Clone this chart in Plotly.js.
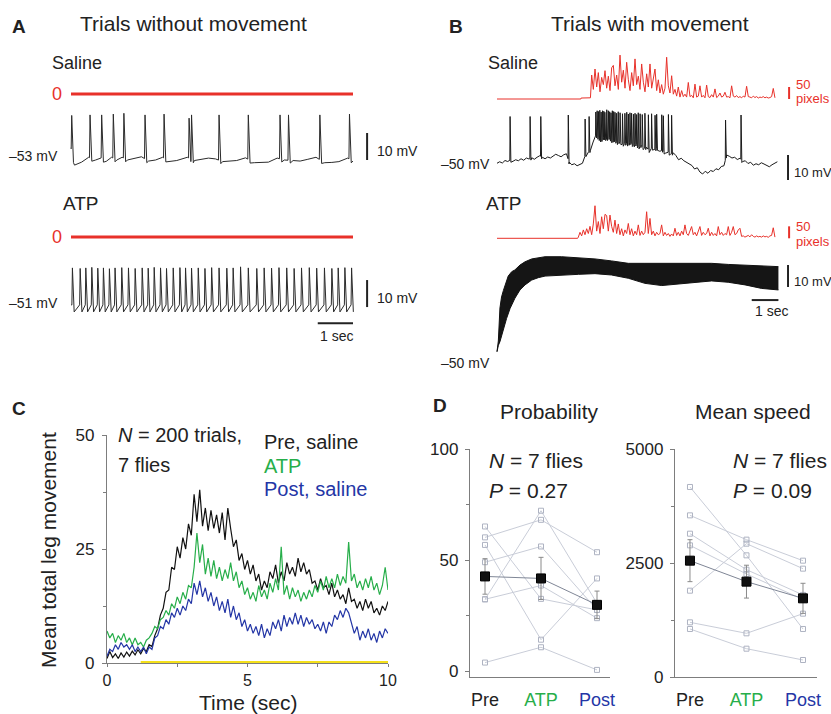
<!DOCTYPE html>
<html>
<head>
<meta charset="utf-8">
<script src="https://cdn.plot.ly/plotly-3.0.1.min.js"></script>
<style>html,body{margin:0;padding:0;background:#fff;}#chart{width:831px;height:714px;}</style>
</head>
<body>
<div id="chart"></div>
<script>
// ---------------- DATA ----------------
// Panel A, saline, no movement: membrane potential (mV)
const aSalBaseT = [0,0.1,0.3,0.5,0.7,0.85,1.0,1.15,1.3,1.45,1.6,1.8,2.0,2.2,2.4,2.6,2.8,3.0,3.3,3.5,3.7,3.9,4.1,4.3,4.5,4.7,4.95,5.2,5.4,5.6,5.85,6.05,6.3,6.5,6.7,6.95,7.2,7.4,7.6,7.85,8.0];
const aSalBaseV = [-48.5,-54.9,-53.8,-52,-53,-52.2,-53.5,-52,-53,-52,-53,-52.5,-51.8,-53.4,-53,-52,-53.6,-53.2,-52,-53.2,-52.8,-52.3,-52.6,-53.6,-53.4,-53.2,-52.2,-54,-54,-53.8,-52.3,-53,-53.2,-53.4,-52.8,-52,-54,-53.9,-53.6,-52.3,-53.4];
const aSalSpikeT = [0.02,0.54,0.87,1.20,1.50,2.10,2.64,3.35,3.42,4.20,5.03,5.93,6.17,7.06,7.90];
const aSalSpikeV = [-36.5,-36.3,-36.3,-36,-35.7,-36.3,-36,-37.5,-36.3,-36.3,-36.3,-36.3,-36.3,-36.3,-36];
const aSalMoveT = [0, 8];
const aSalMoveV = [0, 0];
// Panel A, ATP, no movement
const aAtpBaseT = [0, 8];
const aAtpBaseV = [-51.7, -51.7];
const aAtpSpikeT = [0.04,0.26,0.42,0.59,0.76,0.92,1.09,1.25,1.44,1.63,1.82,2.02,2.19,2.36,2.54,2.71,2.90,3.09,3.25,3.42,3.61,3.80,3.99,4.20,4.42,4.60,4.81,5.03,5.27,5.48,5.69,5.90,6.12,6.33,6.54,6.76,6.97,7.19,7.40,7.58,7.77,7.96];
const aAtpSpikeV = [-38,-38.2,-38,-37.8,-38.1,-38,-38.3,-38,-37.9,-38,-38.2,-38,-38.1,-37.8,-38,-38.2,-38,-37.9,-38,-38.1,-38,-38.2,-37.9,-38,-38.1,-38,-37.6,-38,-38.2,-38,-38.1,-37.9,-38,-38.2,-38,-37.9,-38.1,-38,-38.2,-38,-37.9,-38];
const aAtpMoveT = [0, 8];
const aAtpMoveV = [0, 0];

// Panel B, saline, with movement
const bSalMoveT = [0, 3.14, 3.15, 3.50];
const bSalMoveV = [0, 0, 4, 5];
const bSalMoveStart = 3.546, bSalMoveStep = 0.0624;
const bSalMoveActive = [100,40,125,50,110,30,90,60,118,45, 95,35,130,140,55,100,40,183,70,120, 45,153,80,35,110,55,167,60,95,40, 146,70,30,105,50,146,45,90,125,35, 80,25,60,20,45,174,55,25,97,20, 40,12,50,8,35,10,20,8,69,10, 15,5,62,8,12,55,8,15,5,58, 10,6,18,8,42,6,12,25,8,12, 28,8,10,5,55,12,8,14,6,10, 5,12,8,53,10,8,5,12,6,10, 4,8,6,10,5,8,4,6,10,44, 5];
// membrane potential baseline, every 0.1 s from 0 to 10.5 s
const bSalBaseStep = 0.1;
const bSalBaseV = [-50,-49.4,-49.9,-48.9,-49.3,-48.7,-49.2,-48.6,-49.0,-48.2,
 -48.8,-47.9,-48.3,-47.8,-48.4,-47.6,-47.0,-47.6,-48.2,-47.5,
 -47.9,-47.0,-46.4,-46.9,-47.4,-46.6,-46.2,-49.5,-50.6,-50.2,
 -51.0,-50.6,-50.0,-47.0,-45.5,-44.8,-41.5,-38.8,-39.8,-40.9,
 -39.6,-40.4,-39.7,-41.0,-40.6,-41.8,-41.2,-42.6,-41.9,-42.4,
 -41.6,-42.9,-42.3,-43.6,-42.9,-44.1,-43.6,-44.9,-43.8,-44.5,
 -43.9,-45.2,-44.8,-46.0,-45.5,-46.4,-45.8,-46.9,-48.6,-48.0,
 -49.0,-49.6,-50.5,-50.9,-52.3,-51.8,-53.5,-54.3,-53.2,-54.0,
 -52.9,-53.3,-52.2,-52.6,-51.3,-51.0,-46.7,-47.2,-47.9,-47.6,
 -48.5,-48.0,-49.3,-49.0,-50.1,-49.6,-50.8,-50.2,-50.6,-49.8,
 -50.3,-51.0,-51.4,-50.6,-50.1,-49.4];
const bSalSpikeT = [0.49,1.24,1.64,2.67,3.30,3.45,3.70,3.75,3.80,3.85,3.90,3.95,4.00,4.04,4.11,4.17,4.22,4.27,4.32,4.37,4.42,4.48,4.54,4.61,4.70,4.79,4.86,4.92,4.98,5.04,5.11,5.17,5.23,5.29,5.36,5.44,5.54,5.67,5.79,5.92,5.98,6.17,6.23,6.42,6.54,8.56,9.14];
const bSalSpikeV = [-31.3,-31.3,-31.3,-30.7,-32.3,-31.3,-29.5,-29,-29.3,-28.8,-29.5,-29,-29.2,-29.6,-28.6,-29,-29.4,-29.8,-29,-29.3,-29.6,-30,-29.4,-29.8,-30.2,-30,-29.6,-30.3,-29.8,-30,-30.4,-30,-30.5,-29.8,-30.2,-30.5,-30,-30.6,-30.2,-30.8,-30.4,-30.6,-31,-30.5,-30.8,-32.7,-30.7];
// Panel B, ATP, with movement
const bAtpMoveT = [0, 3.02];
const bAtpMoveV = [0, 0];
const bAtpMoveStart = 3.046, bAtpMoveStep = 0.0624;
const bAtpMoveActive = [5,25,10,35,15,40,20,50,15,60, 136,30,70,20,90,40,100,95,30,97, 50,25,76,20,60,15,40,10,35,20, 62,15,40,10,30,15,56,12,30,15, 25,111,20,83,15,30,10,25,15,20, 56,10,25,12,20,8,18,10,42,12, 25,10,30,15,56,20,12,30,49,15, 25,10,30,49,12,25,15,20,42,10, 25,12,20,10,49,15,25,12,20,15, 49,12,25,49,15,20,35,42,8,10, 5,8,12,6,15,8,5,10,6,8, 5,10,6,8,4,10,12,44,5];
const bAtpLowT = [0,0.05,0.11,0.24,0.36,0.49,0.67,0.86,1.05,1.30,1.55,1.80,2.42,3.05,3.67,4.29,4.92,5.54,6.17,6.79,7.42,8.04,8.66,9.29,9.91,10.54];
const bAtpLowV = [-49.85,-47,-45.3,-39.2,-34.7,-30.2,-25.6,-21.8,-19.5,-17.3,-16.2,-15.5,-15,-14.7,-14.4,-15,-16.5,-18.8,-19.8,-19.2,-18.3,-17.7,-18.3,-19.5,-21.1,-21.8];
const bAtpUpT = [0,0.05,0.11,0.17,0.24,0.30,0.36,0.42,0.55,0.67,0.86,1.05,1.30,1.55,1.80,2.42,3.05,3.67,4.29,4.92,5.54,6.17,6.79,7.42,8.04,8.66,9.29,9.91,10.54];
const bAtpUpV = [-49.85,-45,-30,-25,-22,-20,-18,-15.5,-13.5,-12.7,-10.5,-9,-7.7,-7.1,-6.7,-6.7,-7.1,-7.7,-8.6,-9.7,-9.7,-9.7,-9.7,-10,-9.7,-10.2,-10.5,-10.8,-11.2];

// Scale bars (data units)
const barMv = 10, barSec = 1, barPix = 50;

// Panel C: mean total leg movement, sampled every 0.1 s from 0 to 10 s
const cStep = 0.1;
const cPre = [1.0,2.5,1.2,2.0,1.0,2.2,1.3,2.4,1.5,2.6, 1.8,2.9,2.0,3.2,2.5,4.0,3.6,6.0,7.5,10.5, 12.0,15.5,16.0,21.0,20.5,25.5,23.0,27.5,25.0,30.5, 28.0,37.0,31.0,38.0,30.0,34.0,29.0,33.5,29.5,32.5, 28.5,33.0,27.0,34.0,29.5,25.5,27.0,22.5,24.0,20.5, 22.5,19.5,21.5,18.0,19.5,16.0,18.0,16.5,20.0,18.5, 21.5,17.5,20.0,18.0,22.0,19.5,21.0,19.0,23.0,20.0, 22.0,19.5,20.5,17.5,18.0,16.0,18.5,16.5,17.0,15.0, 17.5,14.5,16.0,14.0,15.0,13.0,16.5,13.5,14.0,12.0, 13.5,11.5,14.0,12.0,13.5,11.0,12.0,10.5,12.5,11.5, 13.5];
const cAtp = [7.0,5.5,6.5,4.5,6.0,5.0,6.5,4.5,5.5,4.0, 5.5,4.0,4.5,3.5,5.0,5.5,6.5,8.0,7.5,9.5, 10.0,11.5,10.5,13.0,12.0,14.5,13.0,15.5,14.0,17.0, 16.5,21.0,28.5,22.0,26.0,19.5,23.0,19.0,22.5,18.5, 21.0,18.0,20.5,18.5,22.0,18.0,20.0,16.5,18.0,15.0, 16.5,14.0,15.5,13.5,17.0,14.5,16.0,14.0,17.5,15.5, 18.5,16.0,25.5,15.0,17.0,14.0,16.5,14.5,16.0,13.5, 15.5,14.0,16.0,14.5,17.0,15.5,18.0,16.0,19.0,16.5, 18.5,16.5,19.5,17.0,19.0,17.5,26.5,18.0,19.5,16.5, 18.0,16.0,18.5,16.5,19.0,16.0,17.5,15.0,17.0,21.0, 16.0];
const cPost = [1.5,3.0,2.5,4.0,3.0,4.5,3.5,4.0,3.0,4.0, 2.5,3.5,2.5,3.5,2.0,3.5,3.0,5.5,6.0,8.0, 7.5,9.5,8.5,11.0,10.0,12.0,10.5,12.5,11.5,14.0, 13.0,17.5,15.0,18.0,14.5,16.5,13.5,15.5,12.5,14.5, 11.5,13.5,11.0,14.0,10.0,12.5,9.5,11.0,8.0,9.5, 7.0,8.5,6.5,8.0,6.0,8.5,5.5,7.5,6.0,9.0, 7.5,9.5,7.0,10.5,8.0,10.0,8.5,11.0,8.5,10.5, 8.0,10.0,8.5,9.5,7.5,8.5,7.0,9.0,6.5,9.0, 8.0,10.5,9.5,11.5,10.0,12.0,11.0,9.0,6.5,8.0, 5.0,7.0,5.5,7.5,5.0,6.5,4.5,7.0,5.5,7.5, 6.5];
const cStimT = [1.2, 10];
const cStimV = [0, 0];

// Panel D
const dCats = ['Pre', 'ATP', 'Post'];
const probPre  = [60.2, 49.0, 32.3, 65.1, 56.8, 3.8, 32.3];
const probATP  = [68.1, 56.1, 72.2, 32.5, 14.1, 10.7, 38.5];
const probPost = [53.5, 27.5, 30.5, 27.5, 41.7, 0.5, 23.8];
const probMean = [42.6, 41.7, 29.8];
const probSem  = [8.0, 9.5, 6.2];
const speedPre  = [4167, 3545, 3143, 2887, 1893, 1199, 1053];
const speedATP  = [2668, 3012, 2354, 2259, 2924, 958, 621];
const speedPost = [1053, 2551, 1800, 1700, 2376, 1389, 373];
const speedMean = [2551, 2091, 1725];
const speedSem  = [460, 360, 330];

// ---------------- HELPERS ----------------
const FONT = 'Liberation Sans, Arial, Helvetica, sans-serif';
const W = 831, H = 714;
const PX = x => x / W;
const PY = y => 1 - y / H;
const domX = (a, b) => [PX(a), PX(b)];
const domY = (top, bottom) => [PY(bottom), PY(top)];
const RED = '#e8312a', GREEN = '#27ae4a', BLUE = '#2436a6', VM = '#2b2b2b';

function interp(ts, vs, t) {
  if (t <= ts[0]) return vs[0];
  for (let i = 1; i < ts.length; i++) {
    if (t <= ts[i]) { const f = (t - ts[i-1]) / (ts[i] - ts[i-1]); return vs[i-1] + f * (vs[i] - vs[i-1]); }
  }
  return vs[vs.length - 1];
}
function spikeTrace(baseT, baseV, spT, spV, rise, fall, ahp) {
  const pts = [];
  baseT.forEach((t, i) => { if (!spT.some(s => t > s - rise && t < s + fall)) pts.push([t, baseV[i]]); });
  spT.forEach((s, i) => {
    pts.push([s - rise, interp(baseT, baseV, s - rise)]);
    pts.push([s, spV[i]]);
    pts.push([s + fall, interp(baseT, baseV, s + fall) - ahp]);
  });
  pts.sort((a, b) => a[0] - b[0]);
  return { x: pts.map(p => p[0]), y: pts.map(p => p[1]) };
}
function regular(start, step, vals) { return vals.map((_, i) => +(start + i * step).toFixed(4)); }

function line(x, y, xa, ya, color, width, extra) {
  return Object.assign({ type: 'scatter', mode: 'lines', x, y, xaxis: xa, yaxis: ya,
    line: { color, width }, hoverinfo: 'skip', showlegend: false }, extra || {});
}

// ---------------- TRACES ----------------
const traces = [];
// A
traces.push(line(aSalMoveT, aSalMoveV, 'x', 'y', RED, 3));
const aSal = spikeTrace(aSalBaseT, aSalBaseV, aSalSpikeT, aSalSpikeV, 0.015, 0.05, 1.0);
traces.push(line(aSal.x, aSal.y, 'x', 'y2', VM, 1));
traces.push(line(aAtpMoveT, aAtpMoveV, 'x', 'y3', RED, 3));
const aAtp = spikeTrace(aAtpBaseT, aAtpBaseV, aAtpSpikeT, aAtpSpikeV, 0.015, 0.05, 2.6);
traces.push(line(aAtp.x, aAtp.y, 'x', 'y4', VM, 1));
// B
traces.push(line(bSalMoveT.concat(regular(bSalMoveStart, bSalMoveStep, bSalMoveActive)),
  bSalMoveV.concat(bSalMoveActive), 'x2', 'y5', RED, 1));
const bSal = spikeTrace(regular(0, bSalBaseStep, bSalBaseV), bSalBaseV, bSalSpikeT, bSalSpikeV, 0.01, 0.03, 0.8);
traces.push(line(bSal.x, bSal.y, 'x2', 'y6', '#1a1a1a', 1));
traces.push(line(bAtpMoveT.concat(regular(bAtpMoveStart, bAtpMoveStep, bAtpMoveActive)),
  bAtpMoveV.concat(bAtpMoveActive), 'x2', 'y7', RED, 1));
traces.push(line(bAtpLowT, bAtpLowV, 'x2', 'y8', '#111', 1));
traces.push(line(bAtpUpT, bAtpUpV, 'x2', 'y8', '#111', 1, { fill: 'tonexty', fillcolor: '#151515' }));
// C
const cT = regular(0, cStep, cPre);
traces.push(line(cT, cPre, 'x3', 'y9', '#111', 1.2, { cliponaxis: false }));
traces.push(line(cT, cAtp, 'x3', 'y9', GREEN, 1.2, { cliponaxis: false }));
traces.push(line(cT, cPost, 'x3', 'y9', BLUE, 1.2, { cliponaxis: false }));
traces.push(line(cStimT, cStimV, 'x3', 'y9', '#f4e01a', 4, { cliponaxis: false }));
// D
const dX = [0, 1, 2];
function dPanel(pre, atp, post, mean, sem, xa, ya) {
  pre.forEach((_, i) => {
    traces.push({ type: 'scatter', mode: 'lines+markers', x: dX, y: [pre[i], atp[i], post[i]],
      xaxis: xa, yaxis: ya, line: { color: '#c9cdd8', width: 1 },
      marker: { symbol: 'square-open', size: 5, color: '#aeb3c2', line: { width: 1 } },
      cliponaxis: false, hoverinfo: 'skip', showlegend: false });
  });
  traces.push({ type: 'scatter', mode: 'lines+markers', x: dX, y: mean, xaxis: xa, yaxis: ya,
    line: { color: '#7f8696', width: 1 },
    marker: { symbol: 'square', size: 9, color: '#111', line: { color: '#000', width: 1 } },
    error_y: { type: 'data', array: sem, visible: true, color: '#8a8a8a', thickness: 1, width: 2.5 },
    cliponaxis: false, hoverinfo: 'skip', showlegend: false });
}
dPanel(probPre, probATP, probPost, probMean, probSem, 'x4', 'y10');
dPanel(speedPre, speedATP, speedPost, speedMean, speedSem, 'x5', 'y11');

// ---------------- LAYOUT ----------------
const hidden = (domain, range, anchor) => ({ domain, range, anchor, visible: false, fixedrange: true });
const AXC = '#7d7d7d';
const tickFont = { family: FONT, size: 17, color: '#222' };
const layout = {
  width: W, height: H,
  margin: { l: 0, r: 0, t: 0, b: 0 },
  paper_bgcolor: '#fff', plot_bgcolor: 'rgba(0,0,0,0)',
  showlegend: false,
  font: { family: FONT, color: '#222' },
  xaxis: hidden(domX(0, 420), [-71 / 35.25, (420 - 71) / 35.25], 'y'),
  xaxis2: hidden(domX(420, 831), [(420 - 497) / 26.7, (831 - 497) / 26.7], 'y5'),
  yaxis: hidden(domY(84, 104), [-1, 1], 'x'),
  yaxis2: hidden(domY(105, 175), [-58.56, -32.63], 'x'),
  yaxis3: hidden(domY(227, 247), [-1, 1], 'x'),
  yaxis4: hidden(domY(255, 330), [-61.0, -33.22], 'x'),
  yaxis5: hidden(domY(45, 105), [-25, 225], 'x2'),
  yaxis6: hidden(domY(105, 185), [-58.7, -26.7], 'x2'),
  yaxis7: hidden(domY(200, 245), [-28, 160], 'x2'),
  yaxis8: hidden(domY(250, 360), [-53.64, -3.64], 'x2'),
  xaxis3: {
    domain: domX(107, 388), range: [0, 10], anchor: 'y9', showgrid: false, zeroline: false,
    showline: true, linecolor: AXC, linewidth: 1.2, ticks: 'outside', ticklen: 3, tickcolor: AXC,
    tickvals: [0, 5, 10], tickfont: { family: FONT, size: 16, color: '#222' }, ticklabelstandoff: 0,
    minor: { tickvals: [2.5, 7.5], ticks: 'outside', ticklen: 3, tickcolor: AXC }, fixedrange: true
  },
  yaxis9: {
    domain: domY(435, 663), range: [0, 50], anchor: 'x3', showgrid: false, zeroline: false,
    showline: true, linecolor: AXC, linewidth: 1.2, ticks: 'outside', ticklen: 4, tickcolor: AXC,
    tickvals: [0, 25, 50], tickfont: tickFont, ticklabelstandoff: 4,
    minor: { tickvals: [12.5, 37.5], ticks: 'outside', ticklen: 3, tickcolor: AXC }, fixedrange: true
  },
  xaxis4: {
    domain: domX(470, 610), range: [-0.268, 2.232], anchor: 'y10', showgrid: false, zeroline: false,
    showline: true, linecolor: AXC, linewidth: 1.2, ticks: '', tickvals: dX,
    ticktext: [dCats[0], '<span style="color:' + GREEN + '">' + dCats[1] + '</span>', '<span style="color:' + BLUE + '">' + dCats[2] + '</span>'],
    tickfont: { family: FONT, size: 18, color: '#222' }, ticklabelstandoff: 6, fixedrange: true
  },
  yaxis10: {
    domain: domY(449, 677), range: [-2.7, 100], anchor: 'x4', showgrid: false, zeroline: false,
    showline: true, linecolor: AXC, linewidth: 1.2, ticks: 'outside', ticklen: 4, tickcolor: AXC,
    tickvals: [0, 50, 100], tickfont: tickFont, ticklabelstandoff: 3,
    minor: { tickvals: [25, 75], ticks: 'outside', ticklen: 3, tickcolor: AXC }, fixedrange: true
  },
  xaxis5: {
    domain: domX(675, 817), range: [-0.265, 2.248], anchor: 'y11', showgrid: false, zeroline: false,
    showline: true, linecolor: AXC, linewidth: 1.2, ticks: '', tickvals: dX,
    ticktext: [dCats[0], '<span style="color:' + GREEN + '">' + dCats[1] + '</span>', '<span style="color:' + BLUE + '">' + dCats[2] + '</span>'],
    tickfont: { family: FONT, size: 18, color: '#222' }, ticklabelstandoff: 6, fixedrange: true
  },
  yaxis11: {
    domain: domY(449, 677), range: [0, 5000], anchor: 'x5', showgrid: false, zeroline: false,
    showline: true, linecolor: AXC, linewidth: 1.2, ticks: 'outside', ticklen: 4, tickcolor: AXC,
    tickvals: [0, 2500, 5000], tickfont: tickFont, ticklabelstandoff: 3,
    minor: { tickvals: [1250, 3750], ticks: 'outside', ticklen: 3, tickcolor: AXC }, fixedrange: true
  },
  shapes: [
    // A scale bars
    { type: 'line', xref: 'x', yref: 'y2', x0: 8.4, x1: 8.4, y0: -53, y1: -53 + barMv, line: { color: '#222', width: 2 } },
    { type: 'line', xref: 'x', yref: 'y4', x0: 8.4, x1: 8.4, y0: -52.5, y1: -52.5 + barMv, line: { color: '#222', width: 2 } },
    { type: 'line', xref: 'x', yref: 'y4', x0: 8 - barSec, x1: 8, y0: -58.5, y1: -58.5, line: { color: '#222', width: 2 } },
    // B scale bars
    { type: 'line', xref: 'x2', yref: 'y5', x0: 10.94, x1: 10.94, y0: 0, y1: barPix, line: { color: RED, width: 2 } },
    { type: 'line', xref: 'x2', yref: 'y7', x0: 10.94, x1: 10.94, y0: 0, y1: barPix, line: { color: RED, width: 2 } },
    { type: 'line', xref: 'x2', yref: 'y6', x0: 10.9, x1: 10.9, y0: -56.7, y1: -56.7 + barMv, line: { color: '#222', width: 2 } },
    { type: 'line', xref: 'x2', yref: 'y8', x0: 10.9, x1: 10.9, y0: -20.45, y1: -20.45 + barMv, line: { color: '#222', width: 2 } },
    { type: 'line', xref: 'x2', yref: 'y8', x0: 10.54 - barSec, x1: 10.54, y0: -26.4, y1: -26.4, line: { color: '#222', width: 2 } }
  ],
  annotations: []
};

function ann(text, x, y, size, xanchor, color, extra) {
  layout.annotations.push(Object.assign({ text, x: PX(x), y: PY(y), xref: 'paper', yref: 'paper',
    showarrow: false, xanchor: xanchor || 'left', yanchor: 'middle',
    font: { family: FONT, size, color: color || '#222' } }, extra || {}));
}
// Panel letters & titles
ann('<b>A</b>', 19, 27, 19, 'center');
ann('Trials without movement', 193, 24, 21, 'center');
ann('<b>B</b>', 456, 27, 19, 'center');
ann('Trials with movement', 650, 24, 21, 'center');
// A labels
ann('Saline', 50, 63, 18);
ann('0', 57, 94, 18, 'center', RED);
ann('\u201353 mV', 60, 156, 14, 'right');
ann('10 mV', 375, 151, 14);
ann('ATP', 61, 203, 19);
ann('0', 57, 237, 18, 'center', RED);
ann('\u201351 mV', 60, 303, 14, 'right');
ann('10 mV', 375, 298, 14);
ann('1 sec', 336, 336, 14, 'center');
// B labels
ann('Saline', 486, 63, 18);
ann('50', 794, 84, 13, 'left', RED);
ann('pixels', 794, 99, 13, 'left', RED);
ann('\u201350 mV', 492, 164, 14, 'right');
ann('10 mV', 792, 172, 13);
ann('ATP', 484, 203, 19);
ann('50', 794, 226, 13, 'left', RED);
ann('pixels', 794, 241, 13, 'left', RED);
ann('10 mV', 792, 282, 13);
ann('1 sec', 771, 311, 14, 'center');
ann('\u201350 mV', 492, 363, 14, 'right');
// C labels
ann('<b>C</b>', 19, 408, 19, 'center');
ann('<i>N</i> = 200 trials,', 116, 435, 20);
ann('7 flies', 116, 465, 20);
ann('Pre, saline', 262, 442, 20);
ann('ATP', 262, 466, 20, 'left', GREEN);
ann('Post, saline', 262, 489, 20, 'left', BLUE);
ann('Mean total leg movement', 48, 550, 21, 'center', '#222', { textangle: -90 });
ann('Time (sec)', 248, 702, 21, 'center');
// D labels
ann('<b>D</b>', 440, 405, 19, 'center');
ann('Probability', 549, 412, 21, 'center');
ann('Mean speed', 753, 412, 21, 'center');
ann('<i>N</i> = 7 flies', 487, 460, 21);
ann('<i>P</i> = 0.27', 487, 490, 21);
ann('<i>N</i> = 7 flies', 731, 460, 21);
ann('<i>P</i> = 0.09', 731, 490, 21);

Plotly.newPlot('chart', traces, layout, { staticPlot: true, displayModeBar: false });
</script>
</body>
</html>
